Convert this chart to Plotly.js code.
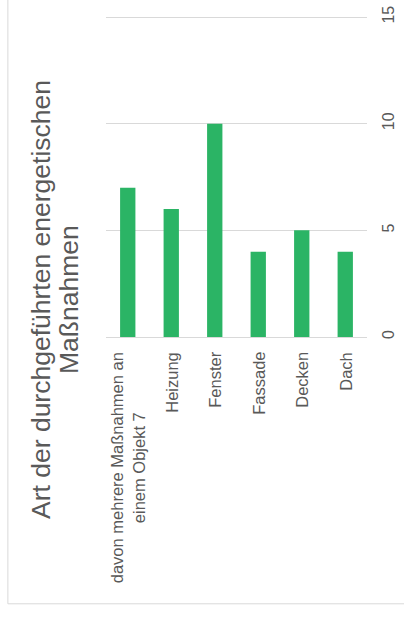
<!DOCTYPE html>
<html>
<head>
<meta charset="utf-8">
<script src="https://cdn.plot.ly/plotly-3.0.1.min.js"></script>
<style>
html,body{margin:0;padding:0;background:#fff;}
#chart{width:404px;height:619px;}
</style>
</head>
<body>
<div id="chart"></div>
<script>
const categories = ["davon mehrere Maßnahmen an<br>einem Objekt 7", "Heizung", "Fenster", "Fassade", "Decken", "Dach"];
const values = [7, 6, 10, 4, 5, 4];
const valueTicks = [0, 5, 10, 15];
const titleLines = ["Art der durchgeführten energetischen", "Maßnahmen"];

const textColor = "#595959";
const font = "'Liberation Sans', Arial, sans-serif";

const catAnnotations = categories.map(c => ({
  x: c, xref: "x", y: 0, yref: "paper",
  text: c, showarrow: false, textangle: -90,
  xanchor: "center", yanchor: "top", yshift: -13, align: "center",
  font: {family: font, size: 16.5, color: textColor}
}));

const titleAnnotations = [
  {text: titleLines[0], xshift: -65},
  {text: titleLines[1], xshift: -37}
].map(t => ({
  x: 0, xref: "paper", y: 0, yref: "paper",
  xshift: t.xshift, yshift: 37,
  text: t.text, showarrow: false, textangle: -90,
  xanchor: "center", yanchor: "middle",
  font: {family: font, size: 26.5, color: textColor}
}));

const data = [{
  type: "bar",
  x: categories,
  y: values,
  marker: {color: "#2bb465"},
  hoverinfo: "none"
}];

const layout = {
  width: 404, height: 619,
  margin: {l: 106, r: 37, t: 16, b: 282},
  paper_bgcolor: "#fff", plot_bgcolor: "#fff",
  bargap: 0.648,
  showlegend: false,
  font: {family: font, color: textColor},
  xaxis: {
    type: "category",
    showticklabels: false,
    showgrid: false,
    showline: false,
    zeroline: false,
    ticks: ""
  },
  yaxis: {
    side: "right",
    range: [0, 15.05],
    tickvals: valueTicks,
    ticktext: valueTicks.map(String),
    tickangle: -90,
    tickfont: {family: font, size: 16, color: textColor},
    gridcolor: "#d9d9d9",
    gridwidth: 1,
    zeroline: true,
    zerolinecolor: "#d9d9d9",
    zerolinewidth: 1,
    showline: false,
    ticks: "",
    ticklabelstandoff: 10
  },
  annotations: catAnnotations.concat(titleAnnotations),
  shapes: [
    {type: "line", xref: "paper", yref: "paper", x0: -98/260.7, x1: -98/260.7, y0: -266.3/320.4, y1: 1.2, line: {color: "#d9d9d9", width: 1}},
    {type: "line", xref: "paper", yref: "paper", x0: -98/260.7, x1: 1.3, y0: -266.3/320.4, y1: -266.3/320.4, line: {color: "#d9d9d9", width: 1}}
  ]
};

Plotly.newPlot("chart", data, layout, {staticPlot: true, displayModeBar: false});
</script>
</body>
</html>
